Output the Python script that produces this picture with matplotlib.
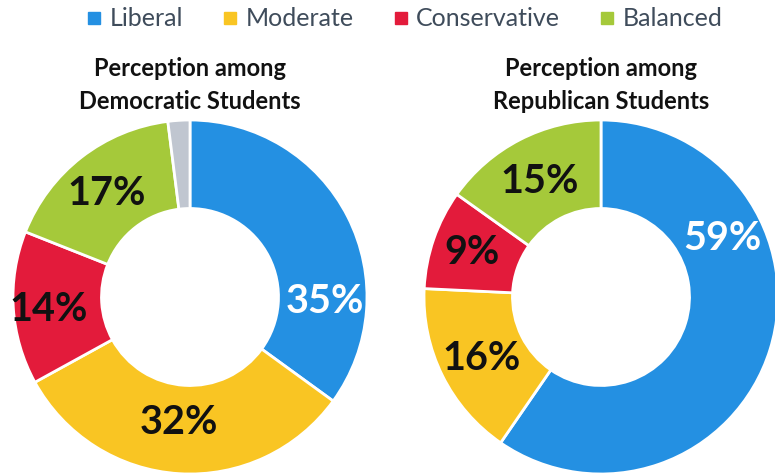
import matplotlib
matplotlib.use("Agg")
import matplotlib.pyplot as plt
from matplotlib.lines import Line2D
import numpy as np

categories = ["Liberal", "Moderate", "Conservative", "Balanced"]
colors = ["#2490e2", "#f9c523", "#e31b3b", "#a5c93a"]
gray = "#c0c6d0"

dem_values = [35, 32, 14, 17, 2]
rep_values = [59, 16, 9, 15]
dem_labels = ["35%", "32%", "14%", "17%", ""]
rep_labels = ["59%", "16%", "9%", "15%"]

# where each label sits (angle in degrees, radius as fraction of outer radius)
dem_label_pos = [(-2, 0.76), (-95, 0.71), (185, 0.80), (129, 0.75)]
rep_label_pos = [(26, 0.76), (207, 0.76), (161, 0.77), (118, 0.74)]
dem_text_col = ["white", "#111111", "#111111", "#111111"]
rep_text_col = ["white", "#111111", "#111111", "#111111"]

W, H = 775, 473
fig = plt.figure(figsize=(W / 100, H / 100), dpi=100)

R = 177


def donut(cx, cy, values, cols, labels, pos, tcols, title):
    ax = fig.add_axes([(cx - R) / W, (H - cy - R) / H, 2 * R / W, 2 * R / H])
    ax.pie(values, colors=cols, startangle=90, counterclock=False,
           radius=1, wedgeprops=dict(width=0.5, edgecolor="white", linewidth=2))
    ax.set_xlim(-1, 1)
    ax.set_ylim(-1, 1)
    for lab, (ang, r), tc in zip(labels, pos, tcols):
        a = np.deg2rad(ang)
        ax.text(r * np.cos(a), r * np.sin(a), lab, ha="center", va="center",
                fontsize=28.5, fontweight="bold", family="Lato", color=tc)
    fig.text(cx / W, 1 - 85 / H, title, ha="center", va="center",
             fontsize=17, fontweight="bold", family="Lato", color="#111111",
             linespacing=1.55)


donut(190, 297, dem_values, colors + [gray], dem_labels, dem_label_pos,
      dem_text_col, "Perception among\nDemocratic Students")
donut(601, 297, rep_values, colors, rep_labels, rep_label_pos,
      rep_text_col, "Perception among\nRepublican Students")

handles = [Line2D([], [], marker="s", linestyle="", markersize=8,
                  markerfacecolor=c, markeredgecolor=c) for c in colors]
fig.legend(handles, categories, loc="center", ncol=4,
           bbox_to_anchor=(402 / W, 1 - 19 / H), frameon=False,
           prop=dict(family="Lato", size=18), labelcolor="#3f4c5b",
           handletextpad=0.1, columnspacing=1.4, handlelength=1.0)

fig.savefig("out.png", dpi=100, facecolor="white")
